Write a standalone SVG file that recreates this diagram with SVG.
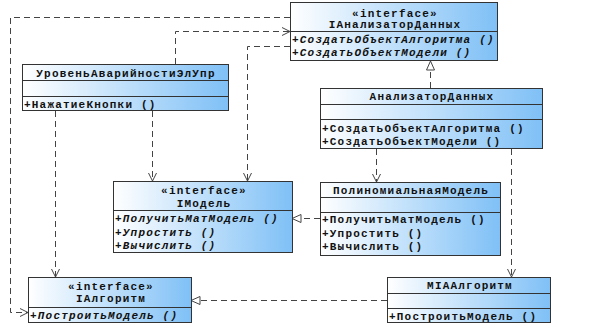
<svg xmlns="http://www.w3.org/2000/svg" width="603" height="327" viewBox="0 0 603 327">
<defs>
<linearGradient id="g" x1="0" y1="0" x2="1" y2="0">
<stop offset="0" stop-color="#ffffff"/>
<stop offset="1" stop-color="#7fc0f6"/>
</linearGradient>
<marker id="open" markerWidth="10" markerHeight="10" refX="9" refY="5" orient="auto" markerUnits="userSpaceOnUse">
<path d="M1,1 L9,5 L1,9" fill="none" stroke="#444" stroke-width="1"/>
</marker>
<marker id="tri" markerWidth="12" markerHeight="12" refX="10" refY="6" orient="auto" markerUnits="userSpaceOnUse">
<path d="M1,2 L10,6 L1,10 Z" fill="#fff" stroke="#444" stroke-width="1"/>
</marker>
</defs>
<style>
.box{fill:url(#g);stroke:#333;stroke-width:1}
.sep{stroke:#333;stroke-width:1}
text{font-family:"Liberation Mono","DejaVu Sans Mono",monospace;font-size:11px;letter-spacing:1.2px;font-weight:bold;fill:#111}
.c{text-anchor:middle}
.i{font-style:italic}
.dep{fill:none;stroke:#444;stroke-width:1;stroke-dasharray:6,4}
.d{marker-end:url(#open)}
.r{marker-end:url(#tri)}
</style>
<g id="connectors">
<path class="dep d" d="M290,17.5 H10.5 V312.5 H28"/>
<path class="dep d" d="M175.5,64 V31.5 H290"/>
<path class="dep d" d="M290,46.5 H247.5 V181"/>
<path class="dep d" d="M152.5,111 V181"/>
<path class="dep d" d="M55.5,111 V277"/>
<path class="dep r" d="M430.5,88 V61"/>
<path class="dep d" d="M376.5,149 V182"/>
<path class="dep d" d="M511.5,149 V277"/>
<path class="dep r" d="M320,218.5 H292"/>
<path class="dep r" d="M387,300.5 H191"/>
</g>
<g id="IAnalizatorDannyh">
<rect class="box" x="290.5" y="2.5" width="207" height="58"/>
<line class="sep" x1="290.5" y1="31.5" x2="497.5" y2="31.5"/>
<text class="c" x="395" y="17">«interface»</text>
<text class="c" x="395" y="28">IАнализаторДанных</text>
<text class="i" x="292" y="43">+СоздатьОбъектАлгоритма ()</text>
<text class="i" x="292" y="56">+СоздатьОбъектМодели ()</text>
</g>
<g id="UrovenAvariynosti">
<rect class="box" x="22.5" y="64.5" width="206" height="46"/>
<line class="sep" x1="22.5" y1="80.5" x2="228.5" y2="80.5"/>
<line class="sep" x1="22.5" y1="96.5" x2="228.5" y2="96.5"/>
<text class="c" x="126" y="76.5">УровеньАварийностиЭлУпр</text>
<text x="24" y="108">+НажатиеКнопки ()</text>
</g>
<g id="AnalizatorDannyh">
<rect class="box" x="320.5" y="88.5" width="222" height="60"/>
<line class="sep" x1="320.5" y1="104.5" x2="542.5" y2="104.5"/>
<line class="sep" x1="320.5" y1="119.5" x2="542.5" y2="119.5"/>
<text class="c" x="432" y="100">АнализаторДанных</text>
<text x="322" y="132">+СоздатьОбъектАлгоритма ()</text>
<text x="322" y="145">+СоздатьОбъектМодели ()</text>
</g>
<g id="IModel">
<rect class="box" x="113.5" y="181.5" width="179" height="71"/>
<line class="sep" x1="113.5" y1="210.5" x2="292.5" y2="210.5"/>
<text class="c" x="204" y="194">«interface»</text>
<text class="c" x="204" y="207">IМодель</text>
<text class="i" x="115" y="222">+ПолучитьМатМодель ()</text>
<text class="i" x="115" y="236">+Упростить ()</text>
<text class="i" x="115" y="249">+Вычислить ()</text>
</g>
<g id="PolinomModel">
<rect class="box" x="320.5" y="182.5" width="180" height="73"/>
<line class="sep" x1="320.5" y1="197.5" x2="500.5" y2="197.5"/>
<line class="sep" x1="320.5" y1="212.5" x2="500.5" y2="212.5"/>
<text class="c" x="411" y="193.5">ПолиномиальнаяМодель</text>
<text x="322" y="223">+ПолучитьМатМодель ()</text>
<text x="322" y="237">+Упростить ()</text>
<text x="322" y="250">+Вычислить ()</text>
</g>
<g id="IAlgoritm">
<rect class="box" x="28.5" y="277.5" width="163" height="45"/>
<line class="sep" x1="28.5" y1="307.5" x2="191.5" y2="307.5"/>
<text class="c" x="111" y="290">«interface»</text>
<text class="c" x="111" y="302">IАлгоритм</text>
<text class="i" x="30" y="319">+ПостроитьМодель ()</text>
</g>
<g id="MIAAlgoritm">
<rect class="box" x="387.5" y="277.5" width="163" height="45"/>
<line class="sep" x1="387.5" y1="293.5" x2="550.5" y2="293.5"/>
<line class="sep" x1="387.5" y1="308.5" x2="550.5" y2="308.5"/>
<text class="c" x="470" y="289">MIAАлгоритм</text>
<text x="389" y="320">+ПостроитьМодель ()</text>
</g>
</svg>
